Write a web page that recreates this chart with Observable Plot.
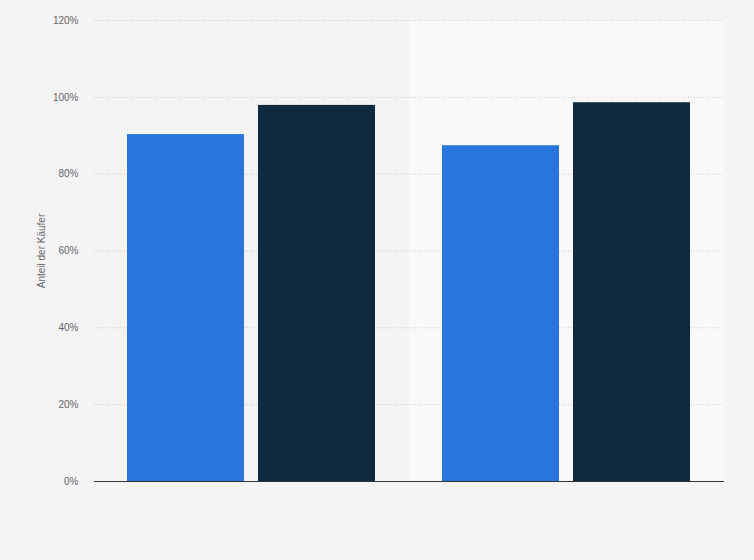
<!DOCTYPE html>
<html>
<head>
<meta charset="utf-8">
<script src="https://cdn.jsdelivr.net/npm/d3@7"></script>
<script src="https://cdn.jsdelivr.net/npm/@observablehq/plot@0.6"></script>
<style>
  html, body { margin: 0; padding: 0; background: #f4f4f4; }
  #chart svg { display: block; }
</style>
</head>
<body>
<div id="chart"></div>
<script>
const groups = ["Gruppe 1", "Gruppe 2"];
const series = ["Serie 1", "Serie 2"];
const valuesSeries1 = [90.3, 87.4];
const valuesSeries2 = [97.9, 98.6];
const yTicks = [0, 20, 40, 60, 80, 100, 120];
const seriesColors = ["#2876dd", "#0f2a3f"];

const data = [];
groups.forEach((g, i) => {
  data.push({group: g, series: series[0], value: valuesSeries1[i]});
  data.push({group: g, series: series[1], value: valuesSeries2[i]});
});
const bandData = [{group: groups[1]}];

const chart = Plot.plot({
  width: 754,
  height: 560,
  marginLeft: 93,
  marginRight: 30,
  marginTop: 20,
  marginBottom: 79,
  style: {background: "#f4f4f4", fontFamily: "'Liberation Sans', Arial, sans-serif", fontSize: "10px"},
  fx: {domain: groups, paddingInner: 0, paddingOuter: 0, axis: null, label: null},
  x: {domain: series, paddingInner: 0.106, paddingOuter: 0.25, axis: null},
  y: {domain: [0, 120], axis: null},
  color: {domain: series, range: seriesColors},
  marks: [
    Plot.barY(bandData, {fx: "group", y1: 0, y2: 120, fill: "#f9f9f9"}),
    Plot.gridY(yTicks, {stroke: "#c8c8c8", strokeOpacity: 1, strokeDasharray: "1,2"}),
    Plot.axisY(yTicks, {
      tickSize: 0, tickPadding: 16, tickFormat: d => d + "%",
      fill: "#666", fontSize: 10,
      label: "Anteil der Käufer", labelAnchor: "center", labelOffset: 57, labelArrow: "none"
    }),
    Plot.barY(data, {fx: "group", x: "series", y: "value", fill: "series"}),
    Plot.ruleY([0], {stroke: "#333", strokeWidth: 1})
  ]
});
document.getElementById("chart").appendChild(chart);
</script>
</body>
</html>
